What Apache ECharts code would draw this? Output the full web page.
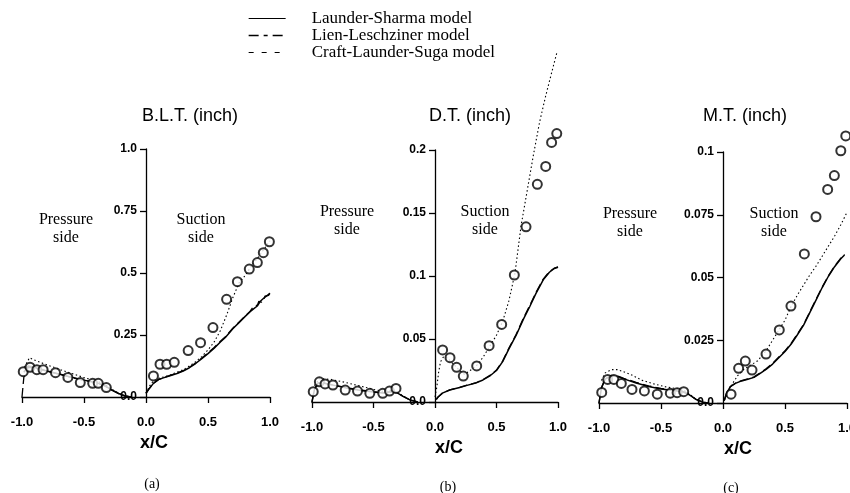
<!DOCTYPE html>
<html>
<head>
<meta charset="utf-8">
<script src="https://cdn.jsdelivr.net/npm/echarts@6/dist/echarts.min.js"></script>
<style>
  html, body { margin: 0; padding: 0; background: #fff; }
  #chart { width: 850px; height: 493px; }
</style>
</head>
<body>
<div id="chart"></div>
<script>
// tick labels
const xTicks = ['-1.0', '-0.5', '0.0', '0.5', '1.0'];
const bltTicks = ['0.0', '0.25', '0.5', '0.75', '1.0'];
const dtTicks = ['0.0', '0.05', '0.1', '0.15', '0.2'];
const mtTicks = ['0.0', '0.025', '0.05', '0.075', '0.1'];

const modelNames = ['Launder-Sharma model', 'Lien-Leschziner model', 'Craft-Launder-Suga model'];

// (a) B.L.T. -- experiment [x/C, value]; pressure side is negative x/C
const bltExp = [
  [-0.99, 0.102], [-0.935, 0.12], [-0.88, 0.11], [-0.83, 0.11], [-0.73, 0.098], [-0.63, 0.079],
  [-0.53, 0.058], [-0.43, 0.055], [-0.385, 0.055], [-0.32, 0.038],
  [0.06, 0.085], [0.113, 0.132], [0.167, 0.132], [0.228, 0.14], [0.34, 0.187], [0.44, 0.219],
  [0.54, 0.28], [0.65, 0.394], [0.737, 0.465], [0.833, 0.516], [0.898, 0.542], [0.946, 0.582], [0.995, 0.626]
];
const bltLsP = [[-0.985, 0.1], [-0.95, 0.125], [-0.9, 0.12], [-0.8, 0.105], [-0.7, 0.093], [-0.6, 0.08], [-0.5, 0.068],
  [-0.4, 0.058], [-0.33, 0.045], [-0.28, 0.03], [-0.22, 0.014], [-0.17, 0.004], [-0.12, 0.0]];
const bltLlP = [[-1.0, 0.0], [-0.985, 0.08], [-0.95, 0.12], [-0.9, 0.118], [-0.8, 0.104], [-0.7, 0.092], [-0.6, 0.079],
  [-0.5, 0.067], [-0.4, 0.057], [-0.33, 0.044], [-0.28, 0.029], [-0.22, 0.013], [-0.17, 0.004], [-0.12, 0.0]];
const bltClsP = [[-0.98, 0.12], [-0.94, 0.158], [-0.88, 0.145], [-0.8, 0.13], [-0.7, 0.112], [-0.6, 0.095], [-0.5, 0.078],
  [-0.4, 0.065], [-0.33, 0.05], [-0.28, 0.033], [-0.22, 0.015], [-0.17, 0.004], [-0.12, 0.0]];
const bltLsS = [[0.0, 0.015], [0.02, 0.03], [0.06, 0.055], [0.1, 0.07], [0.14, 0.077], [0.2, 0.087], [0.25, 0.095],
  [0.3, 0.105], [0.35, 0.118], [0.4, 0.135], [0.45, 0.155], [0.5, 0.175], [0.55, 0.197], [0.6, 0.222], [0.64, 0.24],
  [0.7, 0.275], [0.75, 0.3], [0.8, 0.325], [0.84, 0.344], [0.86, 0.352], [0.87, 0.348], [0.9, 0.368], [0.92, 0.385],
  [0.93, 0.38], [0.96, 0.403], [0.975, 0.398], [1.0, 0.418]];
const bltLlS = [[0.0, 0.015], [0.02, 0.03], [0.06, 0.055], [0.1, 0.07], [0.14, 0.078], [0.2, 0.088], [0.25, 0.096],
  [0.3, 0.106], [0.35, 0.12], [0.4, 0.137], [0.45, 0.157], [0.5, 0.178], [0.55, 0.2], [0.6, 0.225], [0.64, 0.243],
  [0.7, 0.277], [0.75, 0.302], [0.8, 0.327], [0.84, 0.346], [0.86, 0.36], [0.87, 0.355], [0.9, 0.372], [0.91, 0.386],
  [0.93, 0.382], [0.95, 0.392], [0.96, 0.407], [0.97, 0.4], [0.99, 0.41], [1.0, 0.422]];
const bltClsS = [[0.0, 0.015], [0.03, 0.045], [0.06, 0.065], [0.1, 0.075], [0.15, 0.082], [0.2, 0.09], [0.25, 0.1],
  [0.3, 0.11], [0.35, 0.125], [0.4, 0.142], [0.45, 0.163], [0.5, 0.19], [0.55, 0.222], [0.6, 0.268], [0.65, 0.33],
  [0.7, 0.4], [0.75, 0.46], [0.8, 0.49], [0.85, 0.528], [0.9, 0.56], [0.95, 0.595], [1.0, 0.63]];

// (b) D.T.
const dtExp = [
  [-0.99, 0.0082], [-0.94, 0.016], [-0.894, 0.0143], [-0.83, 0.0135], [-0.73, 0.0095], [-0.63, 0.0087],
  [-0.53, 0.0069], [-0.425, 0.0069], [-0.37, 0.0087], [-0.317, 0.0108],
  [0.062, 0.0413], [0.122, 0.0352], [0.176, 0.0275], [0.23, 0.0206], [0.339, 0.0286], [0.44, 0.0447],
  [0.542, 0.0616], [0.645, 0.1008], [0.74, 0.139], [0.832, 0.1728], [0.9, 0.187], [0.948, 0.206], [0.99, 0.213]
];
const dtLsP = [[-1.0, 0.0], [-0.98, 0.01], [-0.95, 0.015], [-0.9, 0.0148], [-0.8, 0.0128], [-0.7, 0.0108], [-0.6, 0.0092],
  [-0.5, 0.008], [-0.42, 0.0072], [-0.36, 0.0082], [-0.31, 0.0075], [-0.26, 0.0045], [-0.2, 0.0015], [-0.14, 0.0]];
const dtLlP = [[-1.0, 0.0], [-0.98, 0.0105], [-0.95, 0.0152], [-0.9, 0.015], [-0.8, 0.013], [-0.7, 0.011], [-0.6, 0.0094],
  [-0.5, 0.0082], [-0.42, 0.0073], [-0.36, 0.0083], [-0.31, 0.0076], [-0.26, 0.0046], [-0.2, 0.0015], [-0.14, 0.0]];
const dtClsP = [[-0.98, 0.013], [-0.94, 0.0185], [-0.85, 0.018], [-0.75, 0.016], [-0.6, 0.0125], [-0.5, 0.01],
  [-0.42, 0.0085], [-0.36, 0.009], [-0.31, 0.0078], [-0.26, 0.0048], [-0.2, 0.0016], [-0.14, 0.0]];
const dtLsS = [[0.01, 0.002], [0.025, 0.004], [0.06, 0.007], [0.12, 0.0095], [0.2, 0.0115], [0.26, 0.0132], [0.33, 0.015],
  [0.39, 0.0175], [0.45, 0.021], [0.5, 0.025], [0.55, 0.032], [0.6, 0.042], [0.66, 0.053], [0.72, 0.066], [0.77, 0.0756],
  [0.82, 0.086], [0.88, 0.097], [0.93, 0.103], [0.97, 0.106], [1.0, 0.107]];
const dtLlS = [[0.01, 0.002], [0.025, 0.004], [0.06, 0.007], [0.12, 0.0096], [0.2, 0.0116], [0.26, 0.0133], [0.33, 0.0151],
  [0.39, 0.0177], [0.45, 0.0213], [0.5, 0.0254], [0.55, 0.0325], [0.6, 0.0426], [0.66, 0.0537], [0.72, 0.0668], [0.77, 0.0765],
  [0.82, 0.0868], [0.88, 0.0975], [0.93, 0.1035], [0.97, 0.1062], [1.0, 0.1072]];
const dtClsS = [[0.0, 0.004], [0.015, 0.012], [0.03, 0.024], [0.045, 0.032], [0.07, 0.036], [0.1, 0.035], [0.15, 0.03],
  [0.2, 0.025], [0.24, 0.022], [0.3, 0.026], [0.35, 0.03], [0.4, 0.037], [0.45, 0.045], [0.5, 0.053], [0.55, 0.064],
  [0.6, 0.08], [0.65, 0.102], [0.7, 0.14], [0.75, 0.168], [0.8, 0.196], [0.85, 0.222], [0.9, 0.243], [0.95, 0.262], [0.99, 0.277]];

// (c) M.T.
const mtExp = [
  [-0.978, 0.0042], [-0.93, 0.0094], [-0.88, 0.0094], [-0.82, 0.0078], [-0.734, 0.0054], [-0.634, 0.0048],
  [-0.53, 0.0035], [-0.425, 0.0039], [-0.37, 0.0041], [-0.317, 0.0045],
  [0.065, 0.0035], [0.126, 0.0138], [0.18, 0.0167], [0.234, 0.0131], [0.347, 0.0195], [0.454, 0.0291],
  [0.548, 0.0386], [0.656, 0.0594], [0.75, 0.0742], [0.844, 0.0851], [0.898, 0.0906], [0.95, 0.1005], [0.99, 0.1064]
];
const mtLsP = [[-1.0, 0.0], [-0.98, 0.006], [-0.95, 0.0095], [-0.9, 0.0108], [-0.85, 0.0106], [-0.8, 0.0096], [-0.7, 0.008],
  [-0.6, 0.0066], [-0.5, 0.0056], [-0.4, 0.005], [-0.33, 0.0046], [-0.28, 0.0035], [-0.22, 0.0015], [-0.16, 0.0003], [-0.12, 0.0]];
const mtLlP = [[-1.0, 0.0], [-0.98, 0.0062], [-0.95, 0.0097], [-0.9, 0.011], [-0.85, 0.0108], [-0.8, 0.0098], [-0.7, 0.0082],
  [-0.6, 0.0068], [-0.5, 0.0058], [-0.4, 0.0051], [-0.33, 0.0047], [-0.28, 0.0036], [-0.22, 0.0015], [-0.16, 0.0003], [-0.12, 0.0]];
const mtClsP = [[-0.98, 0.009], [-0.95, 0.012], [-0.9, 0.0133], [-0.85, 0.0133], [-0.75, 0.0115], [-0.65, 0.009],
  [-0.55, 0.0075], [-0.45, 0.0063], [-0.38, 0.0058], [-0.32, 0.0052], [-0.27, 0.0036], [-0.22, 0.0016], [-0.16, 0.0003], [-0.12, 0.0]];
const mtLsS = [[0.01, 0.001], [0.03, 0.004], [0.06, 0.0065], [0.1, 0.0078], [0.15, 0.0088], [0.2, 0.0095], [0.25, 0.0102],
  [0.3, 0.0118], [0.35, 0.0135], [0.4, 0.0155], [0.45, 0.018], [0.5, 0.0205], [0.55, 0.0235], [0.6, 0.0272], [0.65, 0.031],
  [0.7, 0.036], [0.75, 0.041], [0.8, 0.046], [0.85, 0.0505], [0.9, 0.0543], [0.95, 0.0575], [0.98, 0.059]];
const mtLlS = [[0.01, 0.001], [0.03, 0.0041], [0.06, 0.0066], [0.1, 0.0079], [0.15, 0.0089], [0.2, 0.0096], [0.25, 0.0104],
  [0.3, 0.012], [0.35, 0.0137], [0.4, 0.0158], [0.45, 0.0183], [0.5, 0.0208], [0.55, 0.0238], [0.6, 0.0275], [0.65, 0.0313],
  [0.7, 0.0363], [0.75, 0.0413], [0.8, 0.0462], [0.85, 0.0507], [0.9, 0.0545], [0.95, 0.0577], [0.98, 0.0592]];
const mtClsS = [[0.01, 0.001], [0.04, 0.0045], [0.08, 0.008], [0.12, 0.011], [0.17, 0.0135], [0.22, 0.015], [0.28, 0.0168],
  [0.35, 0.021], [0.4, 0.025], [0.45, 0.029], [0.5, 0.033], [0.55, 0.0386], [0.6, 0.043], [0.65, 0.047], [0.7, 0.051],
  [0.75, 0.0545], [0.8, 0.0585], [0.85, 0.0625], [0.9, 0.0665], [0.95, 0.071], [1.0, 0.076]];

const panels = [
  { grid: { left: 22, top: 149, width: 248, height: 248 }, max: 1.0, interval: 0.25, ticks: bltTicks, namePad: 16,
    exp: bltExp, lines: [[bltLsP, bltLsS], [bltLlP, bltLlS], [bltClsP, bltClsS]] },
  { grid: { left: 312, top: 150, width: 246, height: 252 }, max: 0.2, interval: 0.05, ticks: dtTicks, namePad: 28,
    exp: dtExp, lines: [[dtLsP, dtLsS], [dtLlP, dtLlS], [dtClsP, dtClsS]] },
  { grid: { left: 599, top: 152, width: 248, height: 251 }, max: 0.1, interval: 0.025, ticks: mtTicks, namePad: 30,
    exp: mtExp, lines: [[mtLsP, mtLsS], [mtLlP, mtLlS], [mtClsP, mtClsS]] }
];

const lineStyles = [
  { color: '#000', width: 1.5, type: 'solid' },
  { color: '#000', width: 1.3, type: [9, 4] },
  { color: '#000', width: 1.1, type: [1.5, 2.5] }
];

const axisFont = { fontFamily: 'Liberation Sans, Arial, sans-serif', fontWeight: 'bold', fontSize: 13, color: '#000' };
const serif = 'Liberation Serif, Times New Roman, serif';

const series = [];
panels.forEach((p, i) => {
  series.push({
    name: 'Experiment', type: 'scatter', xAxisIndex: i, yAxisIndex: i, data: p.exp,
    symbol: 'emptyCircle', symbolSize: 9, clip: false, z: 5,
    itemStyle: { color: '#000', borderColor: '#000', borderWidth: 1.9 }
  });
  p.lines.forEach((segs, m) => {
    segs.forEach(seg => {
      series.push({
        name: modelNames[m], type: 'line', xAxisIndex: i, yAxisIndex: i, data: seg,
        symbol: 'none', clip: false, itemStyle: { color: '#000' }, lineStyle: lineStyles[m]
      });
    });
  });
});

const chart = echarts.init(document.getElementById('chart'));
chart.setOption({
  animation: false,
  backgroundColor: '#fff',
  legend: {
    orient: 'vertical', left: 243, top: 5, itemWidth: 37, itemHeight: 10, itemGap: 0,
    selectedMode: false,
    itemStyle: { opacity: 0 },
    data: [
      { name: modelNames[0], lineStyle: { type: 'solid', width: 1.2 } },
      { name: modelNames[1], lineStyle: { type: [10, 5, 4, 5], width: 1.3 } },
      { name: modelNames[2], lineStyle: { type: [5, 8], width: 1.2 } }
    ],
    textStyle: { fontFamily: serif, fontSize: 17, lineHeight: 17, color: '#000', padding: [0, 0, 0, 21] }
  },
  grid: panels.map(p => ({ ...p.grid, outerBoundsMode: 'none', containLabel: false })),
  xAxis: panels.map((p, i) => ({
    type: 'value', gridIndex: i, min: -1, max: 1, interval: 0.5,
    name: 'x/C', nameLocation: 'middle', nameGap: 36,
    nameTextStyle: { fontFamily: 'Liberation Sans, Arial, sans-serif', fontWeight: 'bold', fontSize: 18, color: '#000', padding: [0, 0, 0, p.namePad] },
    axisLine: { onZero: false, lineStyle: { color: '#000', width: 1.3 } },
    axisTick: { show: true, inside: false, length: 6, lineStyle: { color: '#000', width: 1.3 } },
    axisLabel: { ...axisFont, margin: 19, formatter: v => xTicks[Math.round((v + 1) / 0.5)] },
    splitLine: { show: false }
  })),
  yAxis: panels.map((p, i) => ({
    type: 'value', gridIndex: i, min: 0, max: p.max, interval: p.interval,
    position: 'left', offset: -p.grid.width / 2,
    axisLine: { show: true, onZero: false, lineStyle: { color: '#000', width: 1.3 } },
    axisTick: { show: true, length: 6, lineStyle: { color: '#000', width: 1.3 } },
    axisLabel: { ...axisFont, fontSize: 12, margin: 9, formatter: v => p.ticks[Math.round(v / p.interval)] },
    splitLine: { show: false }
  })),
  graphic: [
    { type: 'text', x: 190, y: 116, style: { text: 'B.L.T. (inch)', fill: '#000', font: '18px Liberation Sans, Arial, sans-serif', textAlign: 'center', textVerticalAlign: 'middle' } },
    { type: 'text', x: 470, y: 116, style: { text: 'D.T. (inch)', fill: '#000', font: '18px Liberation Sans, Arial, sans-serif', textAlign: 'center', textVerticalAlign: 'middle' } },
    { type: 'text', x: 745, y: 116, style: { text: 'M.T. (inch)', fill: '#000', font: '18px Liberation Sans, Arial, sans-serif', textAlign: 'center', textVerticalAlign: 'middle' } },
    { type: 'text', x: 66, y: 229, style: { text: 'Pressure\nside', fill: '#000', font: '16px ' + serif, lineHeight: 18, textAlign: 'center', textVerticalAlign: 'middle' } },
    { type: 'text', x: 201, y: 229, style: { text: 'Suction\nside', fill: '#000', font: '16px ' + serif, lineHeight: 18, textAlign: 'center', textVerticalAlign: 'middle' } },
    { type: 'text', x: 347, y: 221, style: { text: 'Pressure\nside', fill: '#000', font: '16px ' + serif, lineHeight: 18, textAlign: 'center', textVerticalAlign: 'middle' } },
    { type: 'text', x: 485, y: 221, style: { text: 'Suction\nside', fill: '#000', font: '16px ' + serif, lineHeight: 18, textAlign: 'center', textVerticalAlign: 'middle' } },
    { type: 'text', x: 630, y: 223, style: { text: 'Pressure\nside', fill: '#000', font: '16px ' + serif, lineHeight: 18, textAlign: 'center', textVerticalAlign: 'middle' } },
    { type: 'text', x: 774, y: 223, style: { text: 'Suction\nside', fill: '#000', font: '16px ' + serif, lineHeight: 18, textAlign: 'center', textVerticalAlign: 'middle' } },
    { type: 'text', x: 152, y: 484, style: { text: '(a)', fill: '#000', font: '14px ' + serif, textAlign: 'center', textVerticalAlign: 'middle' } },
    { type: 'text', x: 448, y: 487, style: { text: '(b)', fill: '#000', font: '14px ' + serif, textAlign: 'center', textVerticalAlign: 'middle' } },
    { type: 'text', x: 731, y: 488, style: { text: '(c)', fill: '#000', font: '14px ' + serif, textAlign: 'center', textVerticalAlign: 'middle' } }
  ],
  series
});
</script>
</body>
</html>
